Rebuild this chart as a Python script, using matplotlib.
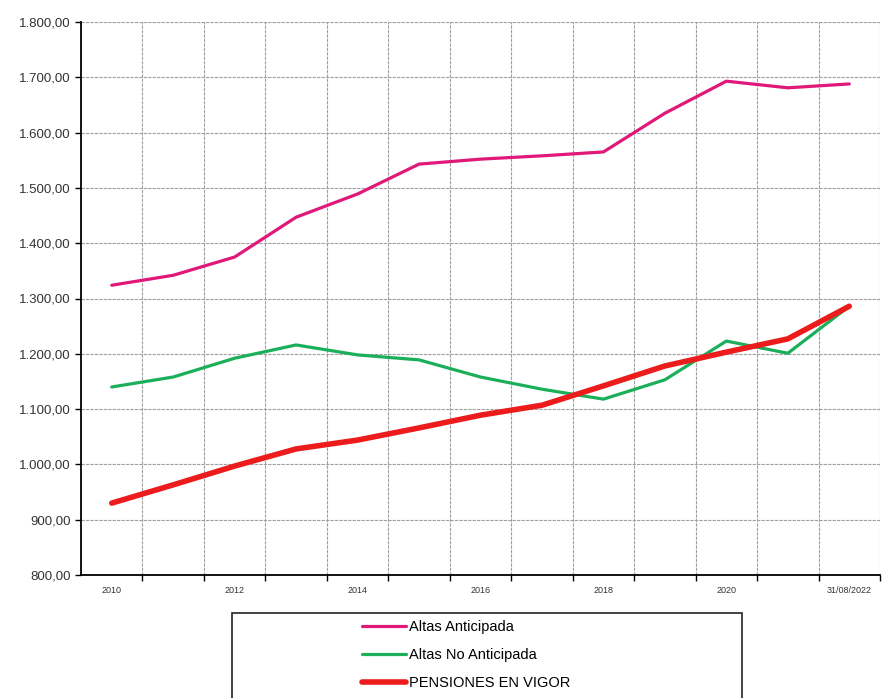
import matplotlib
matplotlib.use("Agg")
import matplotlib.pyplot as plt
from matplotlib.patches import Rectangle
from matplotlib.ticker import FuncFormatter

years = ["2010", "2011", "2012", "2013", "2014", "2015", "2016", "2017",
         "2018", "2019", "2020", "2021", "31/08/2022"]
altas_anticipada = [1324, 1342, 1375, 1447, 1489, 1543, 1552, 1558, 1565,
                    1635, 1693, 1681, 1688]
altas_no_anticipada = [1140, 1158, 1192, 1216, 1198, 1189, 1158, 1136, 1118,
                       1153, 1223, 1201, 1286]
pensiones_vigor = [930, 963, 997, 1028, 1044, 1066, 1089, 1107, 1142,
                   1178, 1203, 1227, 1286]
series_labels = ["Altas Anticipada", "Altas No Anticipada", "PENSIONES EN VIGOR"]

plt.rcParams['font.family'] = ['Liberation Sans', 'DejaVu Sans']

fig = plt.figure(figsize=(8.82, 6.98), dpi=100)
ax = fig.add_axes([81/882, 1-575/698, (880-81)/882, (575-22)/698])

x = list(range(len(years)))
l1, = ax.plot(x, altas_anticipada, color='#E0187A', lw=2.3, solid_capstyle='round')
l2, = ax.plot(x, altas_no_anticipada, color='#1BAF5A', lw=2.3, solid_capstyle='round')
l3, = ax.plot(x, pensiones_vigor, color='#EC1C1C', lw=4.0, solid_capstyle='round')

ax.set_xlim(-0.5, len(years) - 0.5)
ax.set_ylim(800, 1800)
ax.set_yticks(range(800, 1801, 100))
ax.yaxis.set_major_formatter(FuncFormatter(
    lambda v, p: f"{int(v):,}".replace(",", ".") + ",00"))

# category boundaries: tick marks + gridlines
bounds = [i + 0.5 for i in range(len(years))]
ax.set_xticks(bounds, minor=False)
ax.set_xticklabels([])
ax.set_xticks(x[::2], minor=True)
ax.set_xticklabels(years[::2], minor=True)
ax.tick_params(axis='x', which='minor', length=0, labelsize=6.5, pad=8, colors='#333333')
ax.tick_params(axis='x', which='major', length=4, width=1, direction='out', color='black')
ax.tick_params(axis='y', length=4, width=1, labelsize=9.5, colors='black', labelcolor='#333333')

ax.grid(True, which='major', color='#a0a0a0', lw=0.8, linestyle=(0, (3, 1)))
ax.set_axisbelow(True)
for s in ['top', 'right']:
    ax.spines[s].set_visible(False)
for s in ['left', 'bottom']:
    ax.spines[s].set_linewidth(1.3)
    ax.spines[s].set_color('black')

# legend box (clipped at bottom as in reference)
fig.patches.append(Rectangle((232/882, -0.05), (742-232)/882, 1-613/698 + 0.05,
                             transform=fig.transFigure, facecolor='white',
                             edgecolor='#222222', lw=1.2))
leg = fig.legend([l1, l2, l3], series_labels, loc='upper left',
                 bbox_to_anchor=(362/882, 1-620/698), frameon=False,
                 fontsize=10.5, handlelength=3.0, handletextpad=0.25,
                 labelspacing=0.95, borderaxespad=0, borderpad=0)

fig.savefig("out.png", dpi=100)
